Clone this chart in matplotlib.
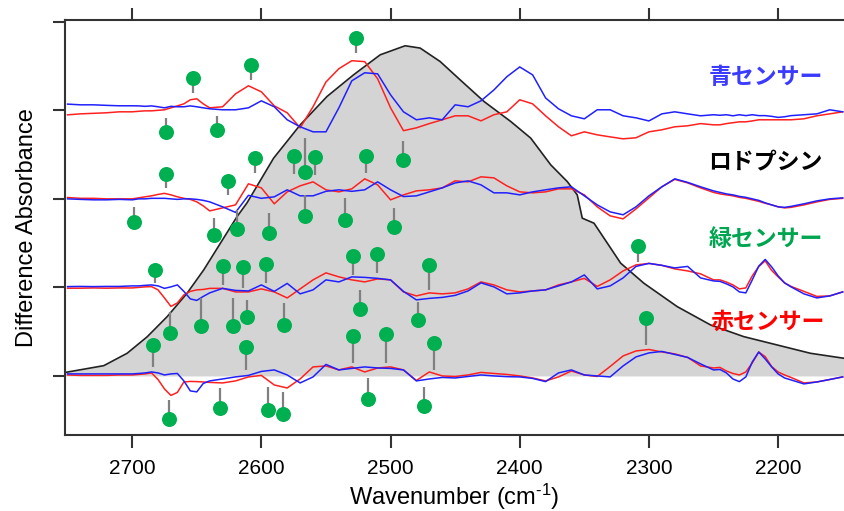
import matplotlib
matplotlib.use('Agg')
import matplotlib.pyplot as plt
import numpy as np

plt.rcParams['font.family'] = ['Liberation Sans', 'Noto Sans CJK JP', 'DejaVu Sans']
plt.rcParams['mathtext.fontset'] = 'custom'
plt.rcParams['mathtext.rm'] = 'Liberation Sans'
plt.rcParams['mathtext.it'] = 'Liberation Sans:italic'

# wavenumber grid (cm-1), finer around the narrow bands
wn = np.r_[2750:2700:-10, 2700:2640:-5, 2640:2250:-10, 2250:2190:-5, 2190:2149:-10]

# difference spectra (arb. units, one tick = 10), red / blue pairs
bs_red = [-0.51, -0.40, -0.34, -0.28, -0.17,
          -0.17, -0.11, -0.06, -0.06, 0.0, 0.06, 0.28, 0.50, 0.73, 1.19, 1.30, 0.73,
          0.28, 0.40, 1.86, 2.77, 2.09, 0.50, -0.28, -1.98, 0.40, 3.20, 4.70, 5.60, 5.50, 3.56,
          0.28, -2.30, -1.98, -1.50, -1.07, -0.62, -0.62, -1.19, -0.50, -0.17, 1.19, 0.73, -0.62,
          -1.86, -2.88, -2.43, -2.77, -3.00, -3.22, -3.10, -2.43, -2.20, -1.86, -1.75, -1.50,
          -1.64, -1.64, -1.50, -1.40, -1.30, -1.30, -1.20, -1.07, -1.07, -1.07, -1.07, -1.07,
          -1.07, -0.96, -0.62, -0.40, -0.17]
bs_blue = [0.70, 0.62, 0.62, 0.56, 0.51,
           0.51, 0.50, 0.45, 0.50, 0.40, 0.28, 0.45, 0.40, 0.40, 0.50, 0.40, 0.28,
           0.17, 0.06, 0.06, 0.28, 1.07, 0.40, -1.07, -1.86, -2.43, -2.43, 0.28, 3.33, 4.24, 4.12,
           1.75, -0.17, -1.07, -0.85, -1.07, 0.62, 0.40, 1.07, 2.30, 3.79, 4.90, 4.00, 1.40,
           0.17, -0.62, -0.96, 0.06, 0.06, -0.62, -0.85, -1.20, -0.40, -0.17, -0.40, -0.62,
           -0.50, -0.56, -0.50, -0.62, -0.50, -0.60, -0.50, -0.60, -0.60, -0.68, -0.80, -0.73,
           -0.60, -0.50, -0.40, 0.06, -0.17]

rh_red = [0.15, 0.06, 0.06, 0.0, 0.0,
          0.0, 0.11, 0.23, 0.34, 0.50, 0.62, 0.45, 0.23, 0.06, -0.06, -0.34, -0.79,
          -1.36, -1.02, -0.68, 1.70, 1.24, -0.56, 0.79, 1.47, 1.92, 1.02, 0.79, 1.13, 2.26, 1.58,
          -0.11, 0.45, 0.90, 1.02, 1.24, 2.03, 1.92, 2.49, 2.37, 1.47, 0.79, 0.68, 0.79,
          1.13, 1.13, 0.45, -0.90, -1.92, -2.26, -1.13, 0.11, 1.36, 2.20, 1.80, 1.24,
          0.73, 0.56, 0.45, 0.34, 0.17, 0.06, -0.11, -0.28, -0.50, -0.68, -0.90, -1.02,
          -0.96, -0.68, -0.34, -0.06, 0.06]
rh_blue = [0.0, -0.06, -0.11, -0.11, -0.06,
           -0.11, 0.0, 0.0, 0.06, 0.06, 0.06, 0.0, -0.06, 0.0, 0.0, -0.06, -0.17,
           -0.34, -0.90, -1.53, 0.40, 0.06, 0.23, 1.02, 0.34, 0.34, 0.85, 1.02, 0.85, 1.02, 1.92,
           1.02, 0.26, 0.34, 0.79, 1.24, 1.80, 2.03, 1.58, 0.68, 0.68, 0.45, 0.79, 1.02,
           1.24, 1.36, 0.34, -0.68, -1.47, -1.80, -0.90, 0.34, 1.36, 2.26, 1.86, 1.36,
           0.90, 0.73, 0.56, 0.45, 0.28, 0.17, 0.0, -0.17, -0.45, -0.68, -0.90, -0.96,
           -0.85, -0.56, -0.23, 0.0, 0.11]

gr_red = [-0.09, -0.09, -0.06, -0.09, -0.06,
          -0.06, 0.0, 0.06, 0.09, -0.28, -1.19, -2.15, -1.75, -0.85, -0.45, -0.28, -0.23,
          -0.11, -0.11, -0.51, -0.51, -0.17, -0.51, -1.19, -0.17, 0.85, 1.64, 1.19, 0.85, 0.62, 0.96,
          0.85, -0.51, -0.96, -0.62, -0.73, -0.62, -0.17, 0.62, 0.28, -0.28, -0.51, -0.40, -0.28,
          0.28, 0.62, 1.02, 0.11, 0.85, 1.86, 2.54, 2.71, 2.49, 2.09, 1.86, 1.53,
          0.85, 0.85, 0.60, 0.28, -0.17, -0.06, 1.30, 2.35, 3.00, 1.92, 1.19, 0.51,
          0.11, -0.45, -1.02, -0.96, -0.51]
gr_blue = [0.09, 0.11, 0.09, 0.11, 0.11,
           0.17, 0.17, 0.23, 0.28, 0.17, -0.11, 0.06, 0.28, -0.45, -1.30, -1.47, -1.02,
           -0.62, -0.11, -0.34, -0.40, 0.28, -0.45, 0.45, -0.73, -0.28, 0.85, 0.62, 1.19, 1.13, 1.02,
           0.85, -0.45, -1.41, -1.24, -1.13, -0.90, -0.40, 0.51, 0.06, -0.73, -0.62, -0.40, -0.28,
           0.17, 0.62, 1.41, -0.17, 0.17, 1.07, 2.37, 2.71, 2.49, 2.20, 2.37, 1.07,
           0.73, 0.68, 0.40, 0.06, -0.51, -0.62, 0.85, 2.40, 3.16, 2.32, 1.30, 0.51,
           0.06, -0.73, -1.19, -0.96, -0.51]

rs_red = [0.11, 0.06, 0.06, 0.06, 0.11,
          0.11, 0.17, 0.23, 0.34, -0.40, -1.47, -2.20, -1.86, -0.68, -0.62, -0.64, -0.68,
          -0.73, -0.79, -0.56, -0.11, 0.06, -1.02, -1.36, -0.34, 1.02, 1.13, 0.68, 1.02, 0.45, 0.90,
          1.02, 0.68, -0.51, 0.45, 0.0, -0.06, 0.11, 0.40, 0.28, 0.17, 0.0, -0.23, -0.56,
          -0.11, 0.56, 0.11, -0.06, 1.07, 2.26, 2.82, 2.99, 2.71, 2.49, 2.09, 1.13,
          0.90, 0.96, 0.56, 0.28, 0.11, 0.45, 1.47, 2.70, 2.18, 1.06, 0.45, 0.11,
          -0.17, -0.79, -0.68, -0.40, -0.11]
rs_blue = [0.23, 0.23, 0.23, 0.23, 0.23,
           0.23, 0.28, 0.34, 0.45, 0.34, 0.11, 0.23, 0.28, -0.56, -1.69, -1.80, -0.85,
           -0.56, -0.34, -0.11, 0.06, 0.51, 0.68, 0.11, -0.79, -0.11, 1.30, 0.68, 0.85, 1.02, 0.90,
           0.85, 0.68, -0.56, -0.34, -0.17, -0.23, -0.06, 0.11, 0.0, -0.08, -0.11, -0.28, -0.64,
           0.34, 0.68, 0.11, 0.0, -0.11, 1.13, 2.15, 2.60, 2.77, 2.43, 2.09, 1.36,
           0.68, 0.73, 0.34, -0.34, -0.64, -0.11, 1.58, 2.70, 1.92, 1.02, 0.23, -0.23,
           -0.45, -0.90, -0.68, -0.40, -0.11]

offsets = [30, 20, 10, 0]
pairs = [(bs_red, bs_blue), (rh_red, rh_blue), (gr_red, gr_blue), (rs_red, rs_blue)]

# rhodopsin absorption band (grey)
band_wn = [2751.6, 2722.0, 2703.9, 2688.4, 2672.9, 2657.5, 2644.6, 2631.7, 2618.8, 2611.1,
           2590.5, 2569.9, 2549.2, 2528.7, 2508.0, 2488.7, 2477.1, 2461.6, 2446.2, 2427.6,
           2406.9, 2391.5, 2376.0, 2363.2, 2355.5, 2351.6, 2342.5, 2329.6, 2321.9, 2303.9,
           2278.1, 2252.3, 2226.6, 2200.8, 2175.0, 2149.3]
band_abs = [0.40, 1.16, 2.56, 4.42, 6.70, 9.34, 11.98, 14.99, 18.0, 19.55,
            24.6, 28.36, 31.56, 34.0, 36.27, 37.29, 37.03, 35.51, 33.45, 30.99,
            28.73, 26.86, 23.84, 21.95, 20.45, 17.82, 17.25, 14.43, 12.74, 10.47,
            7.83, 5.76, 4.44, 3.50, 2.56, 2.0]

# green markers: position, marker height, end of the stem
dot_wn = [2526.6, 2652.8, 2608.0, 2673.7, 2634.0, 2490.5, 2566.5,
          2673.5, 2698.8, 2625.5, 2605.2, 2636.9, 2618.8, 2594.4, 2575.0, 2558.3, 2566.5,
          2535.6, 2519.1, 2497.0,
          2682.0, 2630.0, 2614.5, 2596.4, 2529.4, 2510.3, 2470.1, 2308.3, 2670.4, 2647.0,
          2621.7, 2610.8, 2582.8, 2523.7, 2478.4,
          2683.8, 2611.6, 2529.4, 2503.4, 2466.0, 2302.1, 2671.4, 2631.7, 2594.8, 2583.2,
          2517.5, 2473.8]
dot_y = [38.16, 33.64, 35.14, 27.6, 27.8, 24.4, 23.08,
         22.79, 17.44, 22.03, 24.6, 15.93, 16.58, 16.12, 24.89, 24.71, 18.08,
         17.63, 24.89, 16.87,
         11.98, 12.46, 12.28, 12.66, 13.59, 13.79, 12.54, 14.72, 4.89, 5.68,
         5.68, 6.7, 5.8, 7.6, 6.33,
         3.5, 3.24, 4.52, 4.75, 3.69, 6.59, -4.89, -3.58, -3.84, -4.33,
         -2.6, -3.36]
stem_y = [36.5, 31.98, 33.44, 29.1, 29.38, 26.55, 26.9,
          21.21, 19.13, 20.45, 22.94, 17.82, 18.76, 18.38, 22.82, 22.71, 20.45,
          20.08, 22.9, 18.95,
          10.47, 10.28, 9.94, 10.47, 11.41, 11.6, 9.72, 12.88, 7.27, 8.78,
          8.78, 8.59, 8.21, 9.72, 8.4,
          1.05, 0.68, 1.44, 1.5, 0.68, 3.5, -2.71, -1.39, -1.21, -1.77,
          -0.26, -1.21]

fig = plt.figure(figsize=(8.44, 5.11), dpi=100)
ax = fig.add_axes([65 / 844, 1 - 435 / 511, 779 / 844, 415 / 511])

ax.fill_between(band_wn, band_abs, 0, color='#d4d4d4', lw=0, zorder=1)
ax.plot(band_wn, band_abs, color='#222222', lw=1.2, zorder=2)

for off, (r, b) in zip(offsets, pairs):
    ax.plot(wn, np.array(r) + off, color='#ff2020', lw=1.1, zorder=3)
    ax.plot(wn, np.array(b) + off, color='#2020ff', lw=1.1, zorder=3)

ax.vlines(dot_wn, dot_y, stem_y, color='#808080', lw=1.6, zorder=4)
ax.plot(dot_wn, dot_y, 'o', ms=10.8, color='#00b050', mec='none', zorder=5)

jp = ['Noto Sans CJK JP', 'DejaVu Sans']
ax.text(2254, 33.7, '青センサー', color='#3b3bff', fontsize=16.5, fontweight='bold',
        va='center', family=jp)
ax.text(2254, 24.1, 'ロドプシン', color='black', fontsize=16.5, fontweight='bold',
        va='center', family=jp)
ax.text(2254, 15.4, '緑センサー', color='#00a550', fontsize=16.5, fontweight='bold',
        va='center', family=jp)
ax.text(2252, 6.1, '赤センサー', color='#ff0000', fontsize=16.5, fontweight='bold',
        va='center', family=jp)

ax.set_xlim(2752, 2149)
ax.set_ylim(-6.67, 40.2)
ax.set_xticks([2700, 2600, 2500, 2400, 2300, 2200])
ax.set_yticks([0, 10, 20, 30, 40])
ax.set_yticklabels([])
ax.tick_params(axis='x', direction='out', length=9, width=1.5, top=True, labeltop=False,
               labelsize=15, pad=8, color='#333333')
ax.tick_params(axis='y', direction='out', length=9, width=1.5, color='#333333')
ax.spines['right'].set_visible(False)
for s in ['top', 'bottom', 'left']:
    ax.spines[s].set_linewidth(1.5)
    ax.spines[s].set_color('#333333')

ax.set_xlabel('Wavenumber (cm$^{\u2010 1}$)', fontsize=17, labelpad=3)
ax.set_ylabel('Difference Absorbance', fontsize=17, labelpad=7)

fig.savefig('out.png', dpi=100)
